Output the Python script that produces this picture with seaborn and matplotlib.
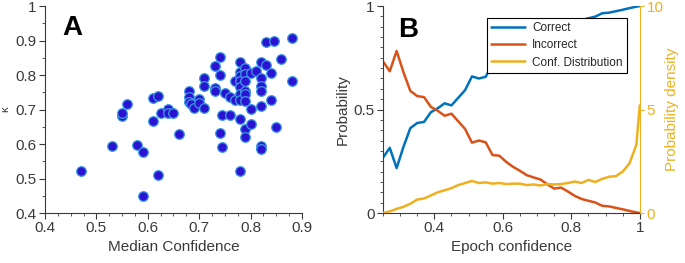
import seaborn as sns
import pandas as pd
import numpy as np
import matplotlib.pyplot as plt
from matplotlib.ticker import MultipleLocator

# パネルA: 中央値の信頼度とκ
median_conf = [0.47, 0.53, 0.55, 0.55, 0.56, 0.58, 0.59, 0.59, 0.61, 0.62, 0.61, 0.62,
               0.625, 0.64, 0.64, 0.65, 0.66, 0.68, 0.68, 0.68, 0.685, 0.69, 0.70, 0.70,
               0.71, 0.71, 0.71, 0.73, 0.73, 0.73, 0.74, 0.74, 0.745, 0.74, 0.745, 0.75,
               0.76, 0.76, 0.77, 0.77, 0.78, 0.78, 0.78, 0.78, 0.78, 0.78, 0.78, 0.78,
               0.78, 0.79, 0.79, 0.79, 0.79, 0.79, 0.79, 0.79, 0.79, 0.80, 0.80, 0.80,
               0.81, 0.82, 0.82, 0.82, 0.82, 0.82, 0.82, 0.82, 0.83, 0.83, 0.84, 0.84,
               0.845, 0.85, 0.86, 0.88, 0.88]
kappa = [0.523, 0.593, 0.68, 0.69, 0.715, 0.597, 0.578, 0.449, 0.733, 0.74, 0.668, 0.51,
         0.69, 0.703, 0.69, 0.69, 0.628, 0.753, 0.735, 0.722, 0.715, 0.705, 0.73, 0.72,
         0.79, 0.768, 0.705, 0.826, 0.763, 0.753, 0.852, 0.80, 0.683, 0.633, 0.59, 0.748,
         0.735, 0.683, 0.727, 0.782, 0.838, 0.81, 0.798, 0.782, 0.765, 0.745, 0.727, 0.672,
         0.523, 0.82, 0.803, 0.782, 0.755, 0.745, 0.724, 0.645, 0.62, 0.805, 0.703, 0.657,
         0.813, 0.838, 0.79, 0.768, 0.755, 0.71, 0.595, 0.585, 0.895, 0.828, 0.807, 0.727,
         0.898, 0.65, 0.846, 0.907, 0.782]

# パネルB: エポック信頼度
epoch_conf = [0.25, 0.27, 0.29, 0.31, 0.33, 0.35, 0.37, 0.39, 0.41, 0.43, 0.45, 0.47,
              0.49, 0.51, 0.53, 0.55, 0.57, 0.59, 0.61, 0.63, 0.65, 0.67, 0.69, 0.71,
              0.73, 0.75, 0.77, 0.79, 0.81, 0.83, 0.85, 0.87, 0.89, 0.91, 0.93, 0.95,
              0.97, 0.99, 1.00]
p_correct = [0.267, 0.315, 0.217, 0.32, 0.41, 0.435, 0.44, 0.487, 0.506, 0.53, 0.52, 0.557,
             0.594, 0.66, 0.65, 0.658, 0.72, 0.723, 0.753, 0.777, 0.796, 0.817, 0.828, 0.838,
             0.861, 0.882, 0.877, 0.896, 0.917, 0.932, 0.941, 0.949, 0.965, 0.968, 0.975,
             0.982, 0.99, 0.997, 1.0]
p_incorrect = [0.733, 0.685, 0.783, 0.68, 0.59, 0.565, 0.56, 0.513, 0.494, 0.47, 0.48, 0.443,
               0.406, 0.34, 0.35, 0.342, 0.28, 0.277, 0.247, 0.223, 0.204, 0.183, 0.172, 0.162,
               0.139, 0.118, 0.123, 0.104, 0.083, 0.068, 0.059, 0.051, 0.035, 0.032, 0.025,
               0.018, 0.01, 0.003, 0.0]
conf_density = [0.0, 0.08, 0.2, 0.3, 0.45, 0.65, 0.7, 0.85, 1.0, 1.1, 1.2, 1.35,
                1.45, 1.55, 1.45, 1.48, 1.42, 1.45, 1.4, 1.42, 1.42, 1.35, 1.38, 1.33,
                1.4, 1.38, 1.4, 1.45, 1.52, 1.45, 1.6, 1.5, 1.65, 1.75, 1.78,
                2.0, 2.4, 3.3, 5.2]

sns.set_style("ticks")
plt.rcParams['font.family'] = ['Liberation Sans', 'DejaVu Sans']
plt.rcParams['font.size'] = 11

gray = '#3a3a3a'
blue = '#0072BD'
red = '#D95319'
yellow = '#EDB120'

fig = plt.figure(figsize=(6.85, 2.63), dpi=100)
axA = fig.add_axes([0.0657, 0.19, 0.375, 0.787])
axB = fig.add_axes([0.559, 0.19, 0.375, 0.787])

# パネルA
dfA = pd.DataFrame({'median': median_conf, 'kappa': kappa})
sns.scatterplot(data=dfA, x='median', y='kappa', ax=axA, s=48,
                color='#2a14d2', edgecolor='#3a9ae0', linewidth=0.9, zorder=3)
axA.set_xlim(0.4, 0.9)
axA.set_ylim(0.4, 1.0)
axA.set_xticks([0.4, 0.5, 0.6, 0.7, 0.8, 0.9])
axA.set_yticks([0.4, 0.5, 0.6, 0.7, 0.8, 0.9, 1.0])
axA.set_yticklabels(['0.4', '0.5', '0.6', '0.7', '0.8', '0.9', '1'])
axA.xaxis.set_minor_locator(MultipleLocator(0.025))
axA.yaxis.set_minor_locator(MultipleLocator(0.05))
axA.set_xlabel('Median Confidence', color=gray, fontsize=11, labelpad=3)
axA.set_ylabel('κ', color=gray, fontsize=8)
axA.yaxis.set_label_coords(-0.135, 0.5)
axA.text(0.433, 0.917, 'A', fontsize=20, fontweight='bold', color='black')
sns.despine(ax=axA)

# パネルB
dfB = pd.DataFrame({'conf': epoch_conf, 'Correct': p_correct,
                    'Incorrect': p_incorrect, 'Conf. Distribution': conf_density})
sns.lineplot(data=dfB, x='conf', y='Correct', ax=axB, color=blue, lw=1.8, label='Correct', legend=False)
sns.lineplot(data=dfB, x='conf', y='Incorrect', ax=axB, color=red, lw=1.8, label='Incorrect', legend=False)
axB2 = axB.twinx()
sns.lineplot(data=dfB, x='conf', y='Conf. Distribution', ax=axB2, color=yellow, lw=1.8,
             label='Conf. Distribution', legend=False)
axB.set_xlim(0.25, 1.0)
axB.set_ylim(0, 1)
axB2.set_ylim(0, 10)
axB.set_xticks([0.4, 0.6, 0.8, 1.0])
axB.set_xticklabels(['0.4', '0.6', '0.8', '1'])
axB.set_yticks([0, 0.5, 1])
axB.set_yticklabels(['0', '0.5', '1'])
axB.xaxis.set_minor_locator(MultipleLocator(0.05))
axB.yaxis.set_minor_locator(MultipleLocator(0.05))
axB2.set_yticks([0, 5, 10])
axB.set_xlabel('Epoch confidence', color=gray, fontsize=11, labelpad=3)
axB.set_ylabel('Probability', color=gray, fontsize=11, labelpad=3)
axB2.set_ylabel('Probability density', color=yellow, fontsize=11)
axB2.yaxis.set_label_coords(1.10, 0.5)
axB.text(0.294, 0.85, 'B', fontsize=20, fontweight='bold', color='black')

for sp in ['top', 'right']:
    axB.spines[sp].set_visible(False)
axB2.spines['top'].set_visible(False)
axB2.spines['left'].set_visible(False)
axB2.spines['bottom'].set_visible(False)
axB2.spines['right'].set_color(yellow)
axB2.spines['right'].set_linewidth(0.8)
axB2.tick_params(axis='y', colors=yellow, labelsize=11, length=3, width=0.8, pad=2)

for ax in (axA, axB):
    for sp in ['left', 'bottom']:
        ax.spines[sp].set_color(gray)
        ax.spines[sp].set_linewidth(0.8)
    ax.tick_params(which='major', colors=gray, labelsize=11, length=4, width=0.8, pad=2)
    ax.tick_params(which='minor', colors=gray, length=2.5, width=0.6)

h1, l1 = axB.get_legend_handles_labels()
h2, l2 = axB2.get_legend_handles_labels()
leg = axB2.legend(h1 + h2, l1 + l2, loc='upper right', bbox_to_anchor=(0.949, 0.943),
                  fontsize=8.5, frameon=True, fancybox=False, framealpha=1,
                  edgecolor='black', handlelength=2.9, borderpad=0.35,
                  labelspacing=0.45, handletextpad=0.6, borderaxespad=0)
leg.get_frame().set_linewidth(0.8)

fig.savefig('out.png', dpi=100)
